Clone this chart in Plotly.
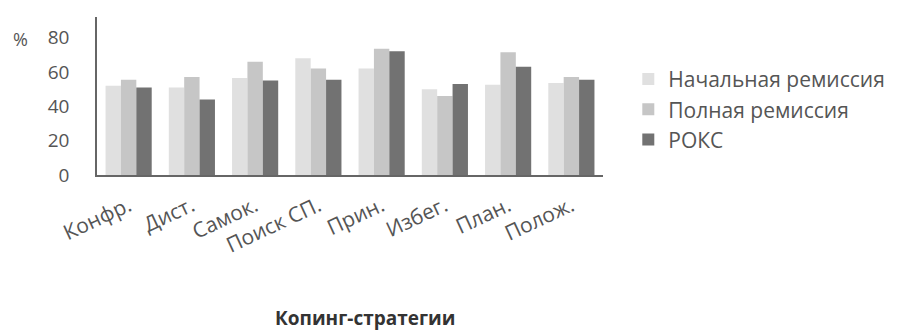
import plotly.graph_objects as go

categories = ["Конфр.", "Дист.", "Самок.", "Поиск СП.", "Прин.", "Избег.", "План.", "Полож."]
series_names = ["Начальная ремиссия", "Полная ремиссия", "РОКС"]
initial_remission = [52, 51, 56.5, 68, 62, 50, 52.5, 53.5]
full_remission = [55.5, 57, 66, 62, 73.5, 46, 71.5, 57]
roks = [51, 44, 55, 55.5, 72, 53, 63, 55.5]
y_ticks = [0, 20, 40, 60, 80]
colors = ["#e0e0e0", "#c6c6c6", "#727272"]

FONT = "Open Sans"
fig = go.Figure()
for name, vals, col in zip(series_names, [initial_remission, full_remission, roks], colors):
    fig.add_trace(go.Bar(x=categories, y=vals, name=name, marker=dict(color=col, line=dict(width=0))))

fig.update_layout(
    width=895, height=323,
    paper_bgcolor="white", plot_bgcolor="white",
    margin=dict(l=89, r=300, t=9, b=156, autoexpand=False),
    barmode="group", bargap=0.27, bargroupgap=0,
    font=dict(family=FONT, size=18, color="#555555"),
    legend=dict(x=1.05, y=0.735, xanchor="left", yanchor="top",
                font=dict(family=FONT, size=21, color="#555555"),
                tracegroupgap=0, itemwidth=30,
                bgcolor="rgba(0,0,0,0)"),
    showlegend=True,
)
fig.update_xaxes(showline=True, linecolor="#666666", linewidth=1.5, tickangle=-25, automargin=False,
                 ticks="", showgrid=False, ticklabelstandoff=9,
                 tickfont=dict(family=FONT, size=21, color="#555555"))
fig.update_yaxes(range=[0, 92], tickvals=y_ticks, showline=True, linecolor="#666666", linewidth=1.5,
                 showgrid=False, zeroline=False, ticks="", ticklabelstandoff=22, automargin=False,
                 tickfont=dict(family=FONT, size=19, color="#555555"))
fig.add_annotation(text="%", xref="paper", yref="paper", x=-0.17, y=0.86, xanchor="left",
                   yanchor="middle", showarrow=False, font=dict(family=FONT, size=18, color="#555555"))
fig.add_annotation(text="<b>Копинг-стратегии</b>", xref="paper", yref="paper", x=0.53, y=-0.905,
                   xanchor="center", yanchor="middle", showarrow=False,
                   font=dict(family=FONT, size=19, color="#333333"))
fig.write_html("out.html")
